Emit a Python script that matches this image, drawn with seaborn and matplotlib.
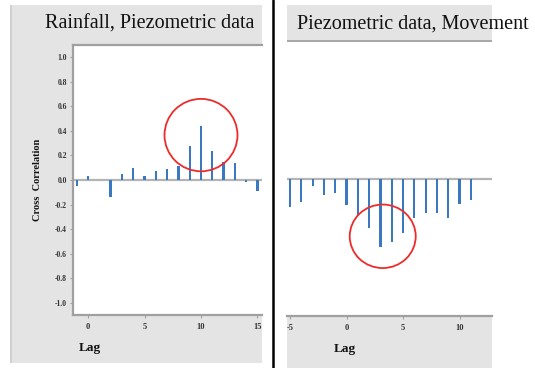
import numpy as np
import pandas as pd
import matplotlib
matplotlib.use("Agg")
import matplotlib.pyplot as plt
from matplotlib.patches import Rectangle, Ellipse
from matplotlib.transforms import Bbox, TransformedBbox
import seaborn as sns

# ---- data ----
lags_left = [-1, 0, 1, 2, 3, 4, 5, 6, 7, 8, 9, 10, 11, 12, 13, 14, 15]
ccf_left = [-0.05, 0.03, 0.0, -0.135, 0.045, 0.10, 0.03, 0.073, 0.086, 0.114,
            0.28, 0.44, 0.24, 0.15, 0.14, -0.02, -0.09]
lags_right = [-5, -4, -3, -2, -1, 0, 1, 2, 3, 4, 5, 6, 7, 8, 9, 10, 11]
ccf_right = [-0.227, -0.186, -0.057, -0.13, -0.116, -0.21, -0.29, -0.39, -0.546,
             -0.505, -0.435, -0.31, -0.27, -0.27, -0.31, -0.20, -0.17]
title_left = "Rainfall, Piezometric data"
title_right = "Piezometric data, Movement"
yticks = [-1.0, -0.8, -0.6, -0.4, -0.2, 0.0, 0.2, 0.4, 0.6, 0.8, 1.0]
xticks_left = [0, 5, 10, 15]
xticks_right = [-5, 0, 5, 10]
circle_left = (10.0, 0.366)
circle_right = (3.2, -0.46)

sns.set_theme(style="white")
plt.rcParams['font.family'] = ['Liberation Serif', 'DejaVu Serif']

W, H = 535, 368
fig = plt.figure(figsize=(W / 100, H / 100), dpi=100)
fig.patch.set_facecolor("white")


def fx(px):
    return px / W


def fy(py):
    return 1 - py / H


def rect_px(x0, y0, x1, y1, **kw):
    r = Rectangle((fx(x0), fy(y1)), fx(x1) - fx(x0), fy(y0) - fy(y1),
                  transform=fig.transFigure, zorder=-5, **kw)
    fig.patches.append(r)


gray = "#e4e4e4"
# left panel gray background
rect_px(10, 5, 262, 363, facecolor=gray, edgecolor="none")
rect_px(10, 5, 12, 363, facecolor="#cfcfcf", edgecolor="none")
# right panel header/footer
rect_px(287, 5, 492, 42, facecolor=gray, edgecolor="none")
rect_px(287, 40, 492, 42, facecolor="#a8a8a8", edgecolor="none")
rect_px(287, 316, 492, 368, facecolor=gray, edgecolor="none")

bar_color = "#3a78c2"
spine_col = "#a0a0a0"

ax1 = fig.add_axes([fx(73), fy(315), fx(262) - fx(73), fy(45) - fy(315)])
ax2 = fig.add_axes([fx(287), fy(316), fx(492) - fx(287), fy(42) - fy(316)])

df1 = pd.DataFrame({"lag": lags_left, "ccf": ccf_left})
df2 = pd.DataFrame({"lag": lags_right, "ccf": ccf_right})

for ax, df, xl, xt in [(ax1, df1, (-1.33, 15.4), xticks_left),
                       (ax2, df2, (-5.27, 12.87), xticks_right)]:
    ax.set_facecolor("white")
    ax.axhline(0, color="#b4b4b4", lw=1.6, zorder=1)
    sns.barplot(data=df, x="lag", y="ccf", native_scale=True, width=0.2,
                color=bar_color, saturation=1, ax=ax, zorder=2, errorbar=None,
                linewidth=0)
    ax.set_xlim(*xl)
    ax.set_ylim(-1.1, 1.1)
    ax.set_xticks(xt)
    ax.set_xticklabels([str(v) for v in xt], fontsize=6, fontweight="bold",
                       color="#333333")
    ax.set_xlabel("Lag", fontsize=9.5, fontweight="bold", color="#111111")
    ax.tick_params(axis="x", length=2.5, width=0.8, color=spine_col, pad=3,
                   bottom=True)
    for s in ax.spines.values():
        s.set_color(spine_col)
        s.set_linewidth(1.6)
    ax.spines["right"].set_visible(False)

ax1.xaxis.set_label_coords(0.09, -0.1)
ax2.xaxis.set_label_coords(0.28, -0.1)

# clip the last x tick label at the panel edge, as in the reference
clipbox = TransformedBbox(Bbox([[0, 0], [fx(262), 1]]), fig.transFigure)
for t in ax1.get_xticklabels():
    t.set_clip_box(clipbox)
    t.set_clip_on(True)

ax1.set_yticks(yticks)
ax1.set_yticklabels([f"{v:.1f}" for v in yticks], fontsize=5.5,
                    fontweight="bold", color="#333333")
ax1.tick_params(axis="y", length=2.5, width=0.8, color=spine_col, pad=2,
                left=True)
ax1.set_ylabel("Cross  Correlation", fontsize=7.5, fontweight="bold",
               color="#111111")
ax1.yaxis.set_label_coords(-0.165, 0.5)

ax2.set_ylabel("")
ax2.set_yticks([])
ax2.spines["left"].set_visible(False)
ax2.spines["top"].set_visible(False)

# highlight circles
ax1.add_patch(Ellipse(circle_left, 6.46, 0.59, fill=False, edgecolor="#ee2b2b",
                      lw=1.3, zorder=3))
ax2.add_patch(Ellipse(circle_right, 5.84, 0.51, fill=False, edgecolor="#ee2b2b",
                      lw=1.3, zorder=3))

# titles
fig.text(fx(45), fy(24), title_left, fontsize=14.5, color="#111111",
         ha="left", va="center")
fig.text(fx(297), fy(24), title_right, fontsize=14.5, color="#111111",
         ha="left", va="center")

# separator line
fig.add_artist(plt.Line2D([fx(273), fx(273)], [0, 1], transform=fig.transFigure,
                          color="black", lw=1.8))

fig.savefig("out.png", dpi=100)
